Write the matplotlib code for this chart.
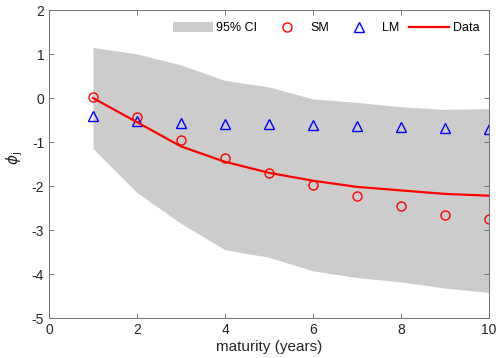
import matplotlib
matplotlib.use("Agg")
import matplotlib.pyplot as plt

plt.rcParams['font.family'] = ['Liberation Sans', 'DejaVu Sans']
plt.rcParams['axes.unicode_minus'] = False

maturity = [1, 2, 3, 4, 5, 6, 7, 8, 9, 10]
ci_upper = [1.15, 1.0, 0.75, 0.4, 0.25, -0.02, -0.1, -0.2, -0.26, -0.24]
ci_lower = [-1.15, -2.15, -2.85, -3.45, -3.62, -3.93, -4.08, -4.18, -4.32, -4.42]
data_vals = [0.0, -0.55, -1.1, -1.45, -1.7, -1.88, -2.02, -2.1, -2.18, -2.22]
sm_vals = [0.02, -0.43, -0.95, -1.37, -1.7, -1.97, -2.22, -2.45, -2.66, -2.76]
lm_vals = [-0.4, -0.52, -0.56, -0.58, -0.59, -0.61, -0.63, -0.66, -0.69, -0.71]

W, H = 496, 358
fig = plt.figure(figsize=(W/100, H/100), dpi=100)
ax = fig.add_axes([49/W, 1-318/H, 440/W, 308/H])

ax.fill_between(maturity, ci_lower, ci_upper, color='#cccccc', linewidth=0, label='95% CI')
ax.plot(maturity, sm_vals, 'o', mfc='none', mec='red', ms=6.5, mew=1.0, label='SM', linestyle='none')
ax.plot(maturity, lm_vals, '^', mfc='none', mec='blue', ms=7, mew=1.0, label='LM', linestyle='none')
ax.plot(maturity, data_vals, '-', color='red', lw=1.6, label='Data')

ax.set_xlim(0, 10)
ax.set_ylim(-5, 2)
ax.set_xticks([0, 2, 4, 6, 8, 10])
ax.set_yticks([-5, -4, -3, -2, -1, 0, 1, 2])
ax.tick_params(direction='in', top=True, right=True, labelsize=10, labelcolor='#262626',
               color='#606060', length=3.5, width=0.6)
for s in ax.spines.values():
    s.set_color('#707070')
    s.set_linewidth(0.7)
ax.set_xlabel('maturity (years)', fontsize=11, color='#262626', labelpad=2)
ax.set_ylabel(r'$\phi_{\rm j}$', fontsize=11, color='#262626')
ax.yaxis.set_label_coords(-0.055, 0.52)

ax.legend(loc='center left', ncol=4, frameon=False, fontsize=9, handlelength=3.2,
          handleheight=0.8, columnspacing=0.8, handletextpad=0.25, borderpad=0,
          borderaxespad=0, bbox_to_anchor=(173/W, 1-28/H), bbox_transform=fig.transFigure)

fig.savefig('out.png', dpi=100)
